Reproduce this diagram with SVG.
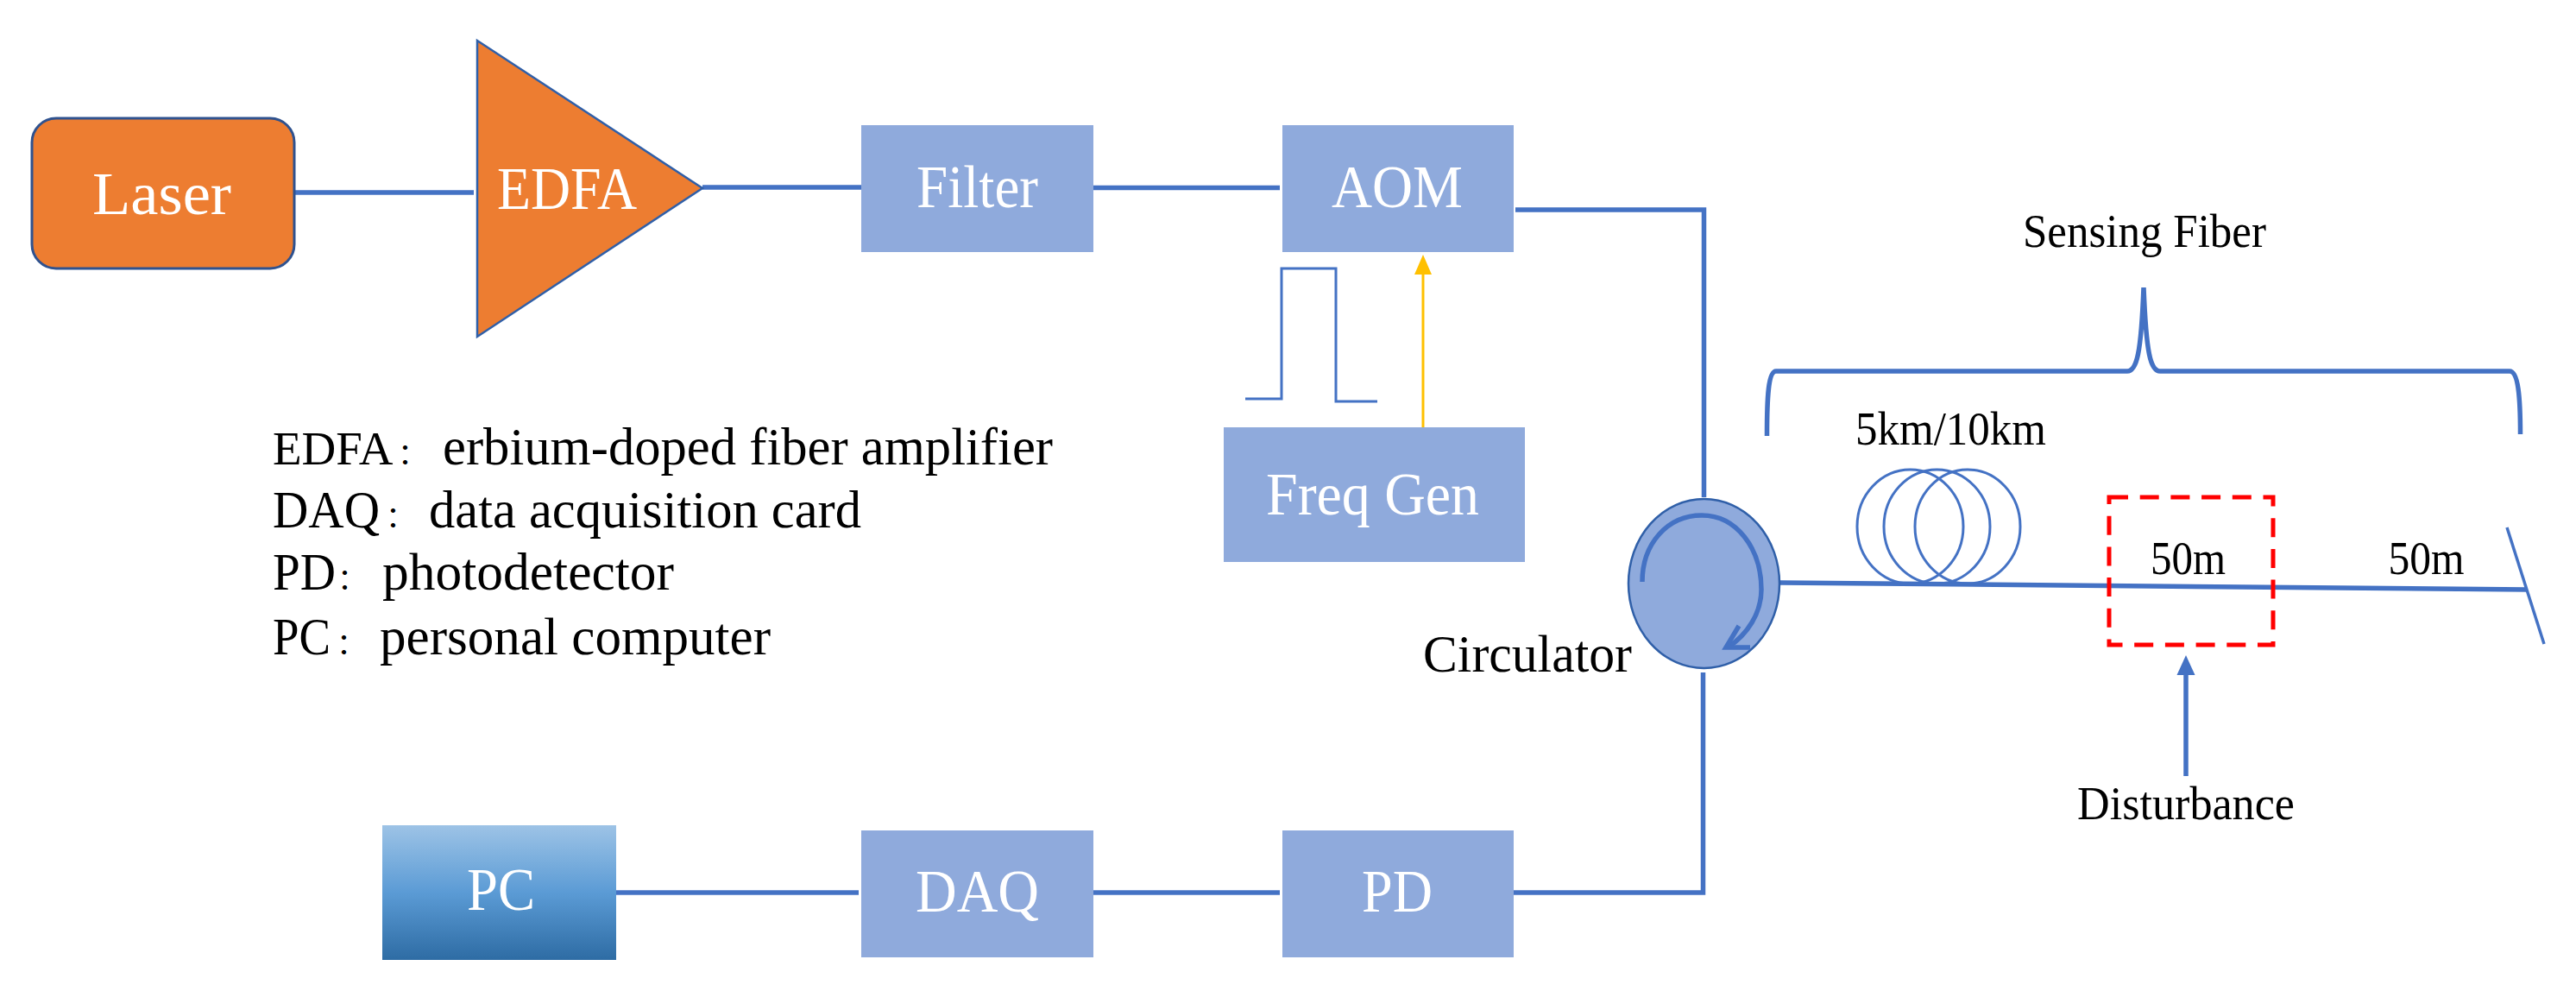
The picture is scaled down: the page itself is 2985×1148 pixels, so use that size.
<svg xmlns="http://www.w3.org/2000/svg" width="2985" height="1148" viewBox="0 0 2985 1148">
<style>
text{font-family:"Liberation Serif","Noto Sans CJK SC",serif}
.w{fill:#fff;font-size:70px}
.k{fill:#000;font-size:55px}
.l{fill:#000;font-size:62px}
.co{font-size:34px}
.box{fill:#8faadc}
.c{fill:none;stroke:#4472c4;stroke-width:5.500}
.t{fill:none;stroke:#4472c4;stroke-width:3}
</style>
<defs>
<linearGradient id="pcg" x1="0" y1="0" x2="0" y2="1"><stop offset="0" stop-color="#9dc3e6"/><stop offset=".5" stop-color="#5b9bd5"/><stop offset="1" stop-color="#2e6ca4"/></linearGradient>
</defs>
<rect width="2985" height="1148" fill="#fff"/>
<g id="connectors">
<path class="c" d="M341 223H549"/>
<path class="c" d="M814 217H998"/>
<path class="c" d="M1267 217.500H1483"/>
<path class="c" d="M1756 243H1974.500V576"/>
<path class="c" d="M1973.500 779V1034H1754"/>
<path class="c" d="M1265 1034H1483"/>
<path class="c" d="M714 1034H995"/>
<path class="c" d="M2063 675L2928 683"/>
<path fill="none" stroke="#ffc000" stroke-width="3" d="M1649 495V315"/>
<path fill="#ffc000" d="M1649 295L1659 318H1639Z"/>
<path class="c" d="M2533 899V780"/>
<path fill="#4472c4" d="M2533 759L2543.500 782H2522.500Z"/>
</g>
<g id="laser"><rect x="37" y="137" width="304" height="174" rx="28" fill="#ed7d31" stroke="#2f528f" stroke-width="3"/><text class="w" x="107" y="248" textLength="161" lengthAdjust="spacingAndGlyphs">Laser</text></g>
<g id="edfa"><path d="M553 47V390L814 218Z" fill="#ed7d31" stroke="#2f5fa8" stroke-width="2.500"/><text class="w" x="576" y="242" textLength="162" lengthAdjust="spacingAndGlyphs">EDFA</text></g>
<g id="filter"><rect class="box" x="998" y="145" width="269" height="147"/><text class="w" x="1062" y="240" textLength="141" lengthAdjust="spacingAndGlyphs">Filter</text></g>
<g id="aom"><rect class="box" x="1486" y="145" width="268" height="147"/><text class="w" x="1543" y="240" textLength="152" lengthAdjust="spacingAndGlyphs">AOM</text></g>
<g id="freq-gen"><rect class="box" x="1418" y="495" width="349" height="156"/><text class="w" x="1467" y="596" textLength="247" lengthAdjust="spacingAndGlyphs">Freq Gen</text></g>
<g id="pd"><rect class="box" x="1486" y="962" width="268" height="147"/><text class="w" x="1578" y="1056" textLength="82" lengthAdjust="spacingAndGlyphs">PD</text></g>
<g id="daq"><rect class="box" x="998" y="962" width="269" height="147"/><text class="w" x="1061" y="1056" textLength="143" lengthAdjust="spacingAndGlyphs">DAQ</text></g>
<g id="pc"><rect x="443" y="956" width="271" height="156" fill="url(#pcg)"/><text class="w" x="541" y="1054" textLength="79" lengthAdjust="spacingAndGlyphs">PC</text></g>
<g id="circulator">
<ellipse cx="1974.500" cy="676" rx="87.500" ry="98" fill="#8faadc" stroke="#2f5fa8" stroke-width="2.500"/>
<path class="c" d="M1903 674C1903 630 1932 597 1972 597C2012 597 2041 635 2041 683C2041 710 2025 735 2002 750"/>
<path class="c" d="M2015 725L2000 750H2028"/>
<text class="l" x="1649" y="778" textLength="242" lengthAdjust="spacingAndGlyphs">Circulator</text>
</g>
<g id="coil">
<ellipse class="t" cx="2213.500" cy="610" rx="61.500" ry="66"/>
<ellipse class="t" cx="2244.500" cy="610" rx="61.500" ry="66"/>
<ellipse class="t" cx="2280" cy="610" rx="61" ry="66"/>
<text class="k" x="2150" y="515" textLength="221" lengthAdjust="spacingAndGlyphs">5km/10km</text>
</g>
<g id="disturbance-zone">
<rect x="2444" y="576" width="190" height="171" fill="none" stroke="#f00" stroke-width="5" stroke-dasharray="22 13.700"/>
<text class="k" x="2492" y="665" textLength="87" lengthAdjust="spacingAndGlyphs">50m</text>
</g>
<g id="sensing-fiber">
<path class="c" d="M2047.500 505C2047.500 460 2049 430 2058 430H2465C2476 430 2481 410 2484 333C2487 410 2492 430 2503 430H2908C2918 430 2920.500 460 2920.500 503"/>
<text class="k" x="2344" y="286" textLength="282" lengthAdjust="spacingAndGlyphs">Sensing Fiber</text>
<text class="k" x="2767.500" y="665" textLength="88" lengthAdjust="spacingAndGlyphs">50m</text>
</g>
<g id="mirror"><path fill="none" stroke="#4472c4" stroke-width="3.500" d="M2905 611L2948 746"/></g>
<g id="pulse"><path class="t" d="M1443 462H1485V311H1548V465H1596"/></g>
<g id="disturbance"><text class="k" x="2407" y="949" textLength="252" lengthAdjust="spacingAndGlyphs">Disturbance</text></g>
<g id="legend">
<text class="l" y="538"><tspan x="316" font-size="55" style="font-size:55px">EDFA</tspan><tspan class="co" x="461">：</tspan><tspan x="513" textLength="707" lengthAdjust="spacingAndGlyphs">erbium-doped fiber amplifier</tspan></text>
<text class="l" y="611"><tspan x="316" textLength="124" lengthAdjust="spacingAndGlyphs">DAQ</tspan><tspan class="co" x="447">：</tspan><tspan x="497" textLength="501" lengthAdjust="spacingAndGlyphs">data acquisition card</tspan></text>
<text class="l" y="683"><tspan x="316" textLength="73" lengthAdjust="spacingAndGlyphs">PD</tspan><tspan class="co" x="391">：</tspan><tspan x="443" textLength="338" lengthAdjust="spacingAndGlyphs">photodetector</tspan></text>
<text class="l" y="758"><tspan x="316" textLength="67" lengthAdjust="spacingAndGlyphs">PC</tspan><tspan class="co" x="390">：</tspan><tspan x="440" textLength="453" lengthAdjust="spacingAndGlyphs">personal computer</tspan></text>
</g>
</svg>
